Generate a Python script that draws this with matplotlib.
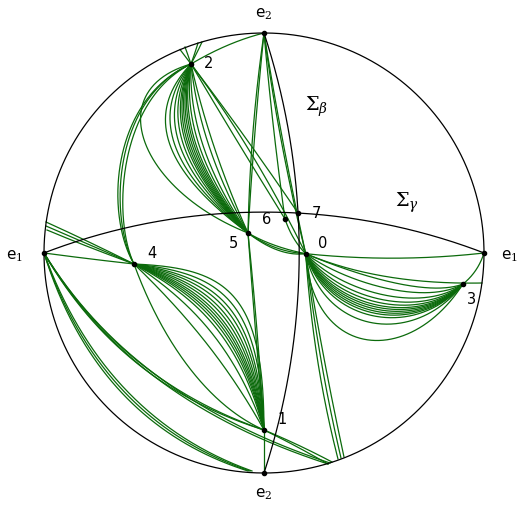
import numpy as np
import matplotlib
matplotlib.use("Agg")
import matplotlib.pyplot as plt

plt.rcParams['mathtext.fontset'] = 'dejavuserif'

# ---------------- data (pixel-like plane of the compactified disk) ----------------
disk_cx, disk_cy, disk_r = 264, 253, 220

eq_names = ['0', '1', '2', '3', '4', '5', '6', '7']
eq_x = [305.7, 264, 191, 463, 134, 248, 285, 298]
eq_y = [253.7, 430, 64, 284, 264, 233, 219, 213]
eq_lab_x = [323, 282, 209, 472, 152, 233, 267, 316]
eq_lab_y = [243, 419, 64, 300, 254, 244, 220, 213]

inf_names = ['e$_1$', 'e$_1$', 'e$_2$', 'e$_2$']
inf_x = [44, 484, 264, 264]
inf_y = [253, 253, 33, 473]
inf_lab_x = [14, 509, 264, 264]
inf_lab_y = [256, 256, 14, 494]

# Sigma_gamma: arc of circle centred (264, 825) radius 612.9 ; Sigma_beta: centred (-405.9, 253) r 705.1
sig_gamma = dict(cx=264, cy=825, r=612.9, x0=44, x1=484)
sig_beta = dict(cx=-405.9, cy=253, r=705.1, y0=33, y1=473)
sig_labels = [r'$\Sigma_\beta$', r'$\Sigma_\gamma$']
sig_lab_x = [317, 407]
sig_lab_y = [107, 203]

# fan 2 -> 5 : horizontal mid-bulge of each orbit
fan25_bulge = [5, 10, 16, 20, 23, 25, 27, 29, 31, 33, 36, 40, 45, 50]
# fan 4 -> 1 : bending parameter (1 = most bent to the upper right)
fan41_bend = [1.0, 0.9, 0.82, 0.76, 0.7, 0.65, 0.6, 0.56, 0.52, 0.48, 0.43, 0.32, 0.14, -0.35]
# fan 0 -> 3 : depth parameter
fan03_depth = [1.05, 0.8, 0.7, 0.66, 0.63, 0.6, 0.57, 0.54, 0.5, 0.45, 0.38, 0.28, 0.18]

# other orbits, quadratic (x0, y0, cx, cy, x1, y1)
orbits_quad = [
    (264, 33, 228, 42, 191, 64),
    (305.7, 253.7, 395, 263, 484, 253),
    (305.7, 253.7, 380, 285, 482, 283),
    (484, 253, 478, 272, 463, 284),
    (305.7, 253.7, 318, 360, 341, 458),
    (305.7, 253.7, 322, 355, 344, 457),
    (305.7, 253.7, 313, 362, 338, 459),
    (248, 233, 275, 252, 305.7, 253.7),
    (248, 233, 272, 247, 305.7, 253.7),
    (248, 233, 279, 257, 305.7, 253.7),
    (248, 233, 258, 330, 264, 430),
    (248, 233, 255, 330, 264, 430),
    (264, 33, 250, 130, 248, 233),
    (264, 33, 254, 130, 248, 233),
    (264, 33, 272, 125, 285, 219),
    (264, 33, 278, 140, 305.7, 253.7),
    (264, 33, 281, 140, 305.7, 253.7),
    (191, 64, 236, 140, 285, 219),
    (191, 64, 245, 135, 298, 213),
    (191, 64, 255, 150, 305.7, 253.7),
    (285, 219, 292, 240, 305.7, 253.7),
    (264, 430, 264, 451, 264, 473),
    (264, 430, 295, 445, 328, 464),
    (264, 430, 298, 444, 332, 462),
    (44, 253, 89, 259, 134, 264),
    (46, 222, 90, 242, 134, 264),
    (46, 226, 90, 245, 134, 264),
    (47, 230, 90, 248, 134, 264),
    (191, 64, 185, 56, 180, 49.5),
    (191, 64, 188, 55, 185, 47),
    (191, 64, 195, 53, 198, 43),
    (191, 64, 197, 53, 202, 42),
    (44, 253, 120, 385, 264, 430),
    (44, 253, 123, 382, 264, 430),
    (44, 253, 100, 420, 250, 471),
    (44, 253, 97, 423, 248, 471),
    (44, 253, 104, 418, 252, 471),
    (44, 253, 130, 400, 328, 464),
    (44, 253, 133, 398, 330, 463),
]

# cubic orbits (x0, y0, c1x, c1y, c2x, c2y, x1, y1)
orbits_cubic = [
    (191, 64, 100, 90, 140, 190, 248, 233),
    (191, 64, 110, 100, 105, 215, 134, 264),
    (191, 64, 114, 98, 108, 215, 134, 264),
    (191, 64, 118, 100, 112, 218, 134, 264),
]

GREEN = '#0b6a0b'

# ---------------- helpers ----------------
t = np.linspace(0, 1, 200)


def quad(x0, y0, cx, cy, x1, y1):
    x = (1 - t) ** 2 * x0 + 2 * t * (1 - t) * cx + t ** 2 * x1
    y = (1 - t) ** 2 * y0 + 2 * t * (1 - t) * cy + t ** 2 * y1
    return x, y


def cubic(x0, y0, ax_, ay_, bx, by, x1, y1):
    x = (1 - t) ** 3 * x0 + 3 * t * (1 - t) ** 2 * ax_ + 3 * t ** 2 * (1 - t) * bx + t ** 3 * x1
    y = (1 - t) ** 3 * y0 + 3 * t * (1 - t) ** 2 * ay_ + 3 * t ** 2 * (1 - t) * by + t ** 3 * y1
    return x, y


W, H = 521, 505
fig = plt.figure(figsize=(W / 100, H / 100), dpi=100)
ax = fig.add_axes([0, 0, 1, 1])
ax.set_xlim(0, W)
ax.set_ylim(H, 0)
ax.set_aspect('equal')
ax.axis('off')

lw_g = 0.9

# fan 2 -> 5
p2 = (eq_x[2], eq_y[2]); p5 = (eq_x[5], eq_y[5])
mx, my = (p2[0] + p5[0]) / 2, (p2[1] + p5[1]) / 2
for D in fan25_bulge:
    x, y = quad(p2[0], p2[1], mx - 2 * D, my - 0.2 * D, p5[0], p5[1])
    ax.plot(x, y, color=GREEN, lw=lw_g)

# fan 4 -> 1
p4 = (eq_x[4], eq_y[4]); p1 = (eq_x[1], eq_y[1])
c1s = np.array([p4[0] + (p1[0] - p4[0]) / 3, p4[1] + (p1[1] - p4[1]) / 3])
c2s = np.array([p4[0] + 2 * (p1[0] - p4[0]) / 3, p4[1] + 2 * (p1[1] - p4[1]) / 3])
c1t = np.array([225, 268]); c2t = np.array([264, 290])
for s in fan41_bend:
    a = c1s + s * (c1t - c1s)
    b = c2s + s * (c2t - c2s)
    x, y = cubic(p4[0], p4[1], a[0], a[1], b[0], b[1], p1[0], p1[1])
    ax.plot(x, y, color=GREEN, lw=lw_g)

# fan 0 -> 3
p0 = (eq_x[0], eq_y[0]); p3 = (eq_x[3], eq_y[3])
for k in fan03_depth:
    x, y = cubic(p0[0], p0[1], 315 + 40 * (1 - k), p0[1] + 100 * k,
                 410 + 20 * (1 - k), p3[1] + 80 * k, p3[0], p3[1])
    ax.plot(x, y, color=GREEN, lw=lw_g)

for o in orbits_quad:
    x, y = quad(*o)
    ax.plot(x, y, color=GREEN, lw=lw_g)
for o in orbits_cubic:
    x, y = cubic(*o)
    ax.plot(x, y, color=GREEN, lw=lw_g)

# boundary circle
th = np.linspace(0, 2 * np.pi, 600)
ax.plot(disk_cx + disk_r * np.cos(th), disk_cy + disk_r * np.sin(th), color='black', lw=0.9)

# Sigma curves
xs = np.linspace(sig_gamma['x0'], sig_gamma['x1'], 300)
ax.plot(xs, sig_gamma['cy'] - np.sqrt(sig_gamma['r'] ** 2 - (xs - sig_gamma['cx']) ** 2), color='black', lw=0.9)
ys = np.linspace(sig_beta['y0'], sig_beta['y1'], 300)
ax.plot(sig_beta['cx'] + np.sqrt(sig_beta['r'] ** 2 - (ys - sig_beta['cy']) ** 2), ys, color='black', lw=0.9)

# points
ax.scatter(eq_x, eq_y, s=9, color='black', zorder=5)
ax.scatter(inf_x, inf_y, s=9, color='black', zorder=5)

for n, x, y in zip(eq_names, eq_lab_x, eq_lab_y):
    ax.text(x, y, n, fontsize=10.5, ha='center', va='center')
for n, x, y in zip(inf_names, inf_lab_x, inf_lab_y):
    ax.text(x, y, n, fontsize=11, ha='center', va='center')
for n, x, y in zip(sig_labels, sig_lab_x, sig_lab_y):
    ax.text(x, y, n, fontsize=14, ha='center', va='center')

fig.savefig('out.png', dpi=100)
